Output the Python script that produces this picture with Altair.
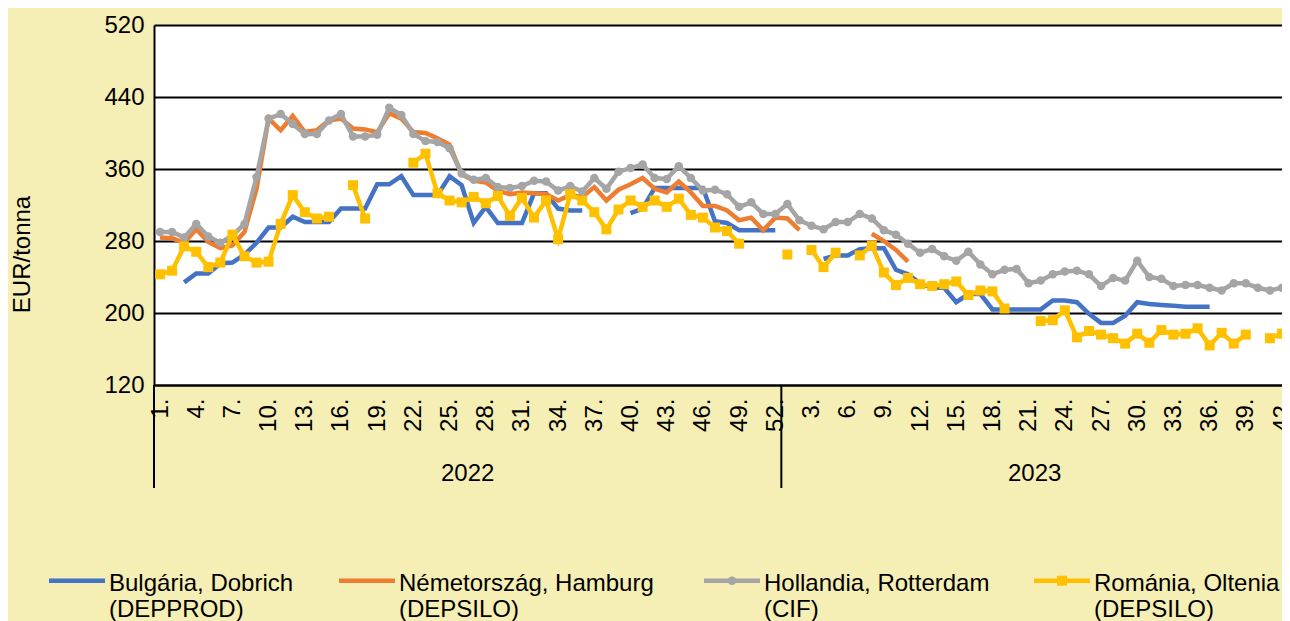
import json
import altair as alt
import pandas as pd

# ---------------- data ----------------
years = ["2022", "2023"]
weeks_per_year = [52, 42]
week_labels = [f"{w}." for n in weeks_per_year for w in range(1, n + 1)]

series_names = [
    "Bulgária, Dobrich\n(DEPPROD)",
    "Németország, Hamburg\n(DEPSILO)",
    "Hollandia, Rotterdam\n(CIF)",
    "Románia, Oltenia\n(DEPSILO)",
]
series_colors = ["#4472C4", "#ED7D31", "#A5A5A5", "#FFC000"]

bulgaria = [
    None, None, 234, 244, 244, 255, 256, 265, 278, 295,
    295, 307, 301, 301, 301, 316, 316, 316, 343, 343,
    352, 331, 331, 331, 352, 342, 300, 318, 300, 300,
    300, 333, 333, 316, 314, 314, None, None, None, 311,
    316, 339, 339, 339, 339, 339, 302, 300, 292, 292,
    292, 292,
    None, None, None, 260, 264, 264, 271, 272, 272, 248,
    243, 233, 228, 228, 212, 221, 221, 204, 204, 204,
    204, 204, 214, 214, 212, 199, 189, 189, 197, 212,
    210, 209, 208, 207, 207, 207, None, None, None, None,
    None, None,
]
germany = [
    284, 283, 278, 293, 279, 272, 275, 290, 338, 416,
    403, 419, 401, 403, 414, 416, 405, 404, 401, 422,
    416, 401, 400, 394, 387, 354, 347, 345, 336, 332,
    334, 333, 332, 325, 331, 329, 340, 325, 337, 343,
    350, 338, 334, 346, 334, 319, 319, 314, 303, 306,
    292, 306,
    305, 292, None, None, None, None, None, 288, 280, 270,
    257, None, None, None, None, None, None, None, None, None,
    None, None, None, None, None, None, None, None, None, None,
    None, None, None, None, None, None, None, None, None, None,
    None, None,
]
netherlands = [
    290, 290, 284, 299, 285, 278, 286, 299, 351, 416,
    421, 410, 399, 399, 414, 421, 396, 396, 398, 428,
    420, 399, 391, 390, 383, 355, 348, 350, 340, 339,
    341, 347, 346, 336, 341, 335, 350, 338, 357, 361,
    365, 350, 349, 363, 350, 336, 337, 332, 318, 323,
    310, 310,
    321, 303, 297, 293, 301, 301, 310, 305, 292, 287,
    277, 267, 271, 263, 258, 268, 254, 243, 248, 249,
    233, 236, 243, 246, 247, 243, 230, 239, 236, 258,
    240, 238, 230, 231, 231, 228, 225, 233, 233, 228,
    225, 228,
]
romania = [
    243, 247, 274, 268, 251, 256, 287, 263, 256, 257,
    299, 331, 312, 305, 307, None, 342, 305, None, None,
    None, 367, 377, 333, 325, 323, 329, 322, 330, 308,
    328, 306, 325, 282, 332, 325, 312, 293, 315, 325,
    318, 325, 318, 327, 309, 306, 295, 291, 277, None,
    None, None,
    265, None, 270, 251, 267, None, 264, 275, 245, 231,
    239, 232, 230, 232, 235, 220, 225, 224, 205, None,
    None, 191, 192, 203, 173, 180, 176, 172, 166, 177,
    167, 181, 176, 177, 183, 164, 178, 166, 176, None,
    172, 177,
]
series_values = [bulgaria, germany, netherlands, romania]

y_ticks = [120, 200, 280, 360, 440, 520]

# ---------------- styling / layout ----------------
BG = "#F5EEB5"
FONT = "Liberation Sans"
stroke_widths = [4.5, 4.5, 3, 3.5]
W, H = 1128, 360
legend_x0 = [-105, 185, 550, 880]   # px, relative to plot origin
legend_line_len = 56
legend_line_y = 555.7
legend_text_y = 565.7

# ---------------- tables ----------------
n = len(week_labels)
rows = []
for name, vals in zip(series_names, series_values):
    for i, v in enumerate(vals):
        rows.append({"i": i, "series": name, "value": v})
df = pd.DataFrame(rows)

starts = [sum(weeks_per_year[:k]) for k in range(len(years))]
year_df = pd.DataFrame({
    "year": years,
    "center": [s + (c - 1) / 2 for s, c in zip(starts, weeks_per_year)],
})
sep_df = pd.DataFrame({"pos": [s - 0.5 for s in starts]})

leg_df = pd.DataFrame({
    "series": series_names,
    "lx": legend_x0,
    "lx2": [x + legend_line_len for x in legend_x0],
    "mx": [x + legend_line_len / 2 for x in legend_x0],
    "tx": [x + legend_line_len + 4 for x in legend_x0],
})

color = alt.Color("series:N", scale=alt.Scale(domain=series_names, range=series_colors), legend=None)
swidth = alt.StrokeWidth("series:N", scale=alt.Scale(domain=series_names, range=stroke_widths), legend=None)

x_axis = alt.Axis(
    values=list(range(0, n, 3)),
    labelExpr=f"{json.dumps(week_labels)}[datum.value]",
    labelAngle=270, labelFontSize=24, labelColor="black", labelPadding=13,
    labelOverlap=False, labelFlush=False, labelBound=False,
    ticks=False, grid=False, domainColor="black", domainWidth=2, title=None,
)
# the last category band runs past the visible right edge, as in the original
x_scale = alt.Scale(domain=[-0.5, n - 1.0], nice=False, zero=False)
y_axis = alt.Axis(
    values=y_ticks, grid=True, gridColor="black", gridWidth=2,
    domainColor="black", domainWidth=2, ticks=False,
    labelFontSize=24, labelColor="black", labelPadding=10,
    title="EUR/tonna", titleFontSize=24, titleFontWeight="normal", titleColor="black",
    titleX=-132, titleY=229, titleAngle=270, titleBaseline="middle", titleAlign="center",
)
y_scale = alt.Scale(domain=[y_ticks[0], y_ticks[-1]], nice=False, zero=False)

X = alt.X("i:Q", scale=x_scale, axis=x_axis)
Y = alt.Y("value:Q", scale=y_scale, axis=y_axis)

base = alt.Chart(df)
layers = []
markers = {series_names[2]: ("circle", 72), series_names[3]: ("square", 100)}
for name in series_names:
    sub = base.transform_filter(alt.datum.series == name)
    layers.append(sub.mark_line().encode(x=X, y=Y, color=color, strokeWidth=swidth))
    if name in markers:
        shp, sz = markers[name]
        layers.append(
            sub.transform_filter("isValid(datum.value)")
            .mark_point(filled=True, shape=shp, size=sz, opacity=1)
            .encode(x=X, y=Y, color=color)
        )

seps = alt.Chart(sep_df).mark_rule(color="black", strokeWidth=2).encode(
    x=alt.X("pos:Q", scale=x_scale, axis=x_axis),
    y=alt.value(H), y2=alt.value(H + 103),
)
year_text = alt.Chart(year_df).mark_text(fontSize=24, baseline="alphabetic", color="black").encode(
    x=alt.X("center:Q", scale=x_scale, axis=x_axis),
    y=alt.value(455.7), text="year:N",
)

leg_lines = alt.Chart(leg_df).mark_rule().encode(
    x=alt.X("lx:Q", scale=None, axis=None), x2="lx2:Q",
    y=alt.value(legend_line_y), color=color, strokeWidth=swidth,
)
leg_pts = []
for name, (shp, sz) in markers.items():
    leg_pts.append(
        alt.Chart(leg_df).transform_filter(alt.datum.series == name)
        .mark_point(filled=True, shape=shp, size=sz, opacity=1)
        .encode(x=alt.X("mx:Q", scale=None, axis=None), y=alt.value(legend_line_y), color=color)
    )
leg_text = alt.Chart(leg_df).mark_text(
    align="left", baseline="alphabetic", fontSize=24, lineBreak="\n", lineHeight=26, color="black"
).encode(x=alt.X("tx:Q", scale=None, axis=None), y=alt.value(legend_text_y), text="series:N")

chart = alt.layer(*layers, seps, year_text, leg_lines, *leg_pts, leg_text).properties(
    width=W, height=H,
    autosize=alt.AutoSizeParams(type="none"),
    padding={"left": 146, "top": 17, "right": 0, "bottom": 236},
).configure(
    background=BG, font=FONT,
).configure_view(fill="white", stroke=None)

chart.save("out.html", embed_options={"renderer": "svg", "actions": False})
